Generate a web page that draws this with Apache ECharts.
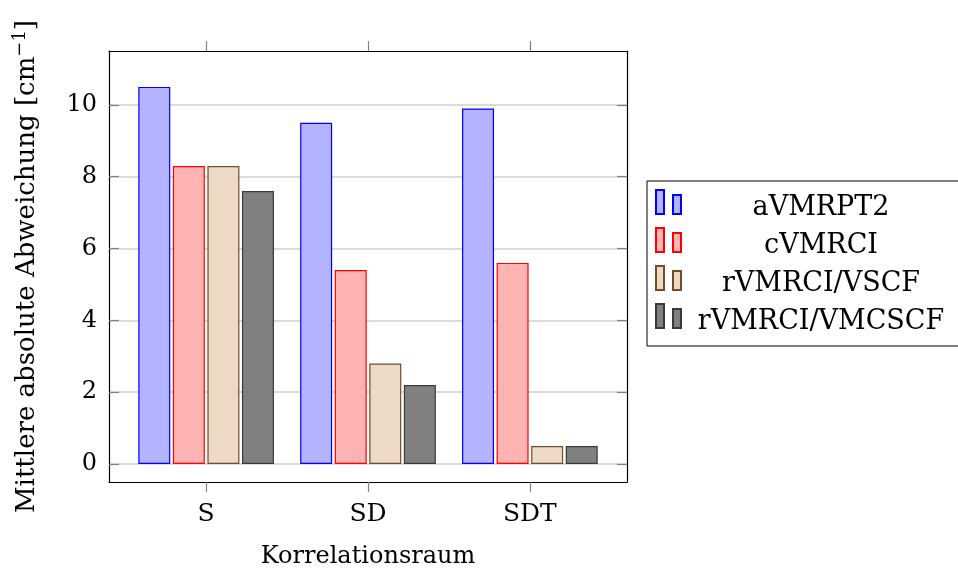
<!DOCTYPE html>
<html>
<head>
<meta charset="utf-8">
<script src="https://cdn.jsdelivr.net/npm/echarts@6/dist/echarts.min.js"></script>
<style>html,body{margin:0;padding:0;background:#fff;}#c{width:958px;height:572px;}</style>
</head>
<body>
<div id="c"></div>
<script>
const categories = ['S', 'SD', 'SDT'];
const categoryPos = [1, 2, 3];
const seriesNames = ['aVMRPT2', 'cVMRCI', 'rVMRCI/VSCF', 'rVMRCI/VMCSCF'];
const aVMRPT2 = [10.5, 9.5, 9.9];
const cVMRCI = [8.3, 5.4, 5.6];
const rVMRCI_VSCF = [8.3, 2.8, 0.5];
const rVMRCI_VMCSCF = [7.6, 2.2, 0.5];
const yTicks = [0, 2, 4, 6, 8, 10];

const FONT = 'DejaVu Serif';
const fills = ['#b3b3ff', '#ffb3b3', '#ecd9c6', '#808080'];
const strokes = ['#0000ff', '#ff0000', '#734d26', '#3a3a3a'];
const values = [aVMRPT2, cVMRCI, rVMRCI_VSCF, rVMRCI_VMCSCF];

const chart = echarts.init(document.getElementById('c'), null, {renderer: 'canvas'});

const xCommon = {
  type: 'value', min: 0.4, max: 3.6,
  axisLine: {show: true, onZero: false, lineStyle: {color: '#000', width: 1.2}},
  axisTick: {show: true, inside: false, length: 10, customValues: categoryPos, lineStyle: {color: '#808080', width: 1.2}},
  splitLine: {show: false}
};
const yCommon = {
  type: 'value', min: -0.5, max: 11.5,
  axisLine: {show: true, onZero: false, lineStyle: {color: '#000', width: 1.2}},
  axisTick: {show: true, inside: true, length: 10, customValues: yTicks, lineStyle: {color: '#808080', width: 1.2}}
};

chart.setOption({
  animation: false,
  backgroundColor: '#fff',
  grid: {left: 109, top: 51, width: 518, height: 431, containLabel: false, outerBoundsMode: 'none'},
  legend: {
    orient: 'vertical', left: 647, top: 181,
    padding: [2, 20, 11, 8],
    borderColor: '#000', borderWidth: 1,
    itemWidth: 25, itemHeight: 24, itemGap: 0,
    icon: 'path://M0,0h8v24h-8z M17,5h8v19h-8z',
    data: seriesNames,
    formatter: function (n) { return '{t|' + n + '}'; },
    textStyle: {
      rich: {
        t: {width: 270, align: 'center', fontSize: 27, fontFamily: FONT, color: '#000', lineHeight: 26, padding: [11, 0, 0, 0]}
      }
    }
  },
  xAxis: [
    Object.assign({}, xCommon, {
      position: 'bottom',
      name: 'Korrelationsraum', nameLocation: 'middle', nameGap: 63,
      nameTextStyle: {fontSize: 24, fontFamily: FONT, color: '#000'},
      axisLabel: {show: true, customValues: categoryPos, margin: 20, fontSize: 25, fontFamily: FONT, color: '#000',
        formatter: function (v) { const i = categoryPos.indexOf(Math.round(v)); return i >= 0 ? categories[i] : ''; }}
    }),
    Object.assign({}, xCommon, {position: 'top', axisLabel: {show: false}})
  ],
  yAxis: [
    Object.assign({}, yCommon, {
      position: 'left',
      name: '{a|Mittlere absolute Abweichung [cm}{s|−1}{a|]}', nameLocation: 'middle', nameGap: 66,
      nameTextStyle: {rich: {
        a: {fontSize: 26, fontFamily: FONT, color: '#000', lineHeight: 32},
        s: {fontSize: 18, fontFamily: FONT, color: '#000', lineHeight: 32, verticalAlign: 'top', padding: [0, 0, 12, 0]}
      }},
      axisLabel: {show: true, customValues: yTicks, margin: 12, fontSize: 24, fontFamily: FONT, color: '#000'},
      splitLine: {show: true, lineStyle: {color: '#cfcfcf', width: 1.5}}
    }),
    Object.assign({}, yCommon, {position: 'right', axisLabel: {show: false}, splitLine: {show: false}})
  ],
  series: values.map(function (vals, k) {
    return {
      name: seriesNames[k], type: 'bar', xAxisIndex: 0, yAxisIndex: 0,
      barWidth: 32, barGap: '8%',
      itemStyle: {color: fills[k], borderColor: strokes[k], borderWidth: 1.2},
      data: vals.map(function (v, i) { return [categoryPos[i], v]; })
    };
  })
});
</script>
</body>
</html>
